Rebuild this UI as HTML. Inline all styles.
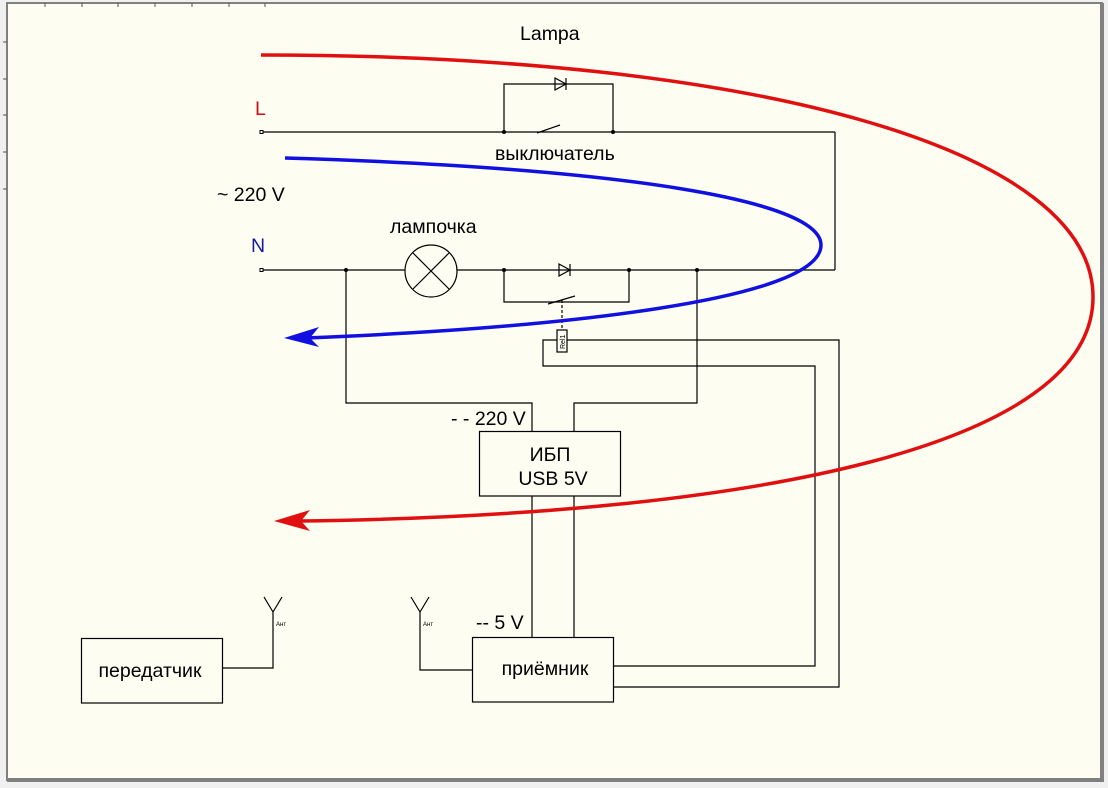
<!DOCTYPE html>
<html><head><meta charset="utf-8"><style>
html,body{margin:0;padding:0;background:#f0f0f0;}
svg{display:block;}
text{font-family:"Liberation Sans",sans-serif;}
</style></head><body>
<svg width="1108" height="788" viewBox="0 0 1108 788" xmlns="http://www.w3.org/2000/svg">
<rect x="0" y="0" width="1108" height="788" fill="#f0f0f0"/>
<rect x="7" y="3" width="1095" height="777" fill="#fdfdf2" stroke="#808080" stroke-width="2"/>
<rect x="1100" y="3" width="4" height="779" fill="#808080"/>
<rect x="7" y="778" width="1097" height="4" fill="#808080"/>
<g stroke="#555" stroke-width="1">
<line x1="45" y1="3" x2="45" y2="7"/><line x1="82" y1="3" x2="82" y2="7"/><line x1="118" y1="3" x2="118" y2="7"/><line x1="155" y1="3" x2="155" y2="7"/><line x1="192" y1="3" x2="192" y2="7"/><line x1="229" y1="3" x2="229" y2="7"/><line x1="265" y1="3" x2="265" y2="7"/>
<line x1="3" y1="42" x2="7" y2="42"/><line x1="3" y1="79" x2="7" y2="79"/><line x1="3" y1="115" x2="7" y2="115"/><line x1="3" y1="152" x2="7" y2="152"/><line x1="3" y1="189" x2="7" y2="189"/>
</g>
<g fill="none" stroke="#000" stroke-width="1.2">
<line x1="262" y1="132" x2="835" y2="132"/>
<line x1="835" y1="132" x2="835" y2="270"/>
<line x1="262" y1="270" x2="835" y2="270"/>
<polyline points="504,132 504,84 613,84 613,132"/>
<line x1="537" y1="133" x2="560" y2="125"/>
<polyline points="504,270 504,302 629,302 629,270"/>
<line x1="548" y1="304" x2="575" y2="296"/>
<line x1="562" y1="300" x2="562" y2="330" stroke-dasharray="3,2"/>
<circle cx="431" cy="271" r="26" fill="#fdfdf2"/>
<line x1="413" y1="253" x2="449" y2="289"/><line x1="449" y1="253" x2="413" y2="289"/>
<polyline points="346,270 346,403 532,403 532,432"/>
<polyline points="697,270 697,403 574,403 574,432"/>
<rect x="479.5" y="431.5" width="141" height="64.5" fill="#fdfdf2"/>
<line x1="532" y1="496" x2="532" y2="637"/>
<line x1="574" y1="496" x2="574" y2="637"/>
<rect x="472.5" y="637.5" width="141" height="64.5"/>
<rect x="81.5" y="638.5" width="141" height="64.5"/>
<polyline points="614,666 815,666 815,366 543,366 543,340 557,340"/>
<polyline points="567,340 839,340 839,687 614,687"/>
<rect x="557" y="330" width="10" height="22" fill="#fdfdf2"/>
<polyline points="222,668 273,668 273,612"/>
<polyline points="264,597 273,612 282,597"/>
<polyline points="472,670 420,670 420,612"/>
<polyline points="411,597 420,612 429,597"/>
</g>
<g fill="none" stroke="#000" stroke-width="1.2">
<polygon points="555,78 555,90 566,84"/><line x1="566" y1="78" x2="566" y2="90"/>
<polygon points="559,264 559,276 570,270"/><line x1="570" y1="264" x2="570" y2="276"/>
</g>
<g fill="#000">
<circle cx="504" cy="132" r="2"/><circle cx="613" cy="132" r="2"/>
<circle cx="346" cy="270" r="2"/><circle cx="504" cy="270" r="2"/><circle cx="629" cy="270" r="2"/><circle cx="697" cy="270" r="2"/>
</g>
<rect x="260" y="130.5" width="3" height="3" fill="#fff" stroke="#000" stroke-width="1"/>
<rect x="260" y="268.5" width="3" height="3" fill="#fff" stroke="#000" stroke-width="1"/>
<path d="M261,55 C760,55 1093,150 1093,297 C1093,445 760,515 300,521" fill="none" stroke="#e01010" stroke-width="3.5"/>
<polygon points="274,521 310,510 301,521 310,531" fill="#e01010"/>
<path d="M285,158 C620,168 821,200 821,245 C821,300 560,328 305,338" fill="none" stroke="#1010e0" stroke-width="3.5"/>
<polygon points="284,338 319,327 310,338 319,347" fill="#1010e0"/>
<g font-size="19.5">
<text x="520" y="40">Lampa</text>
<text x="255" y="115" fill="#cc1010">L</text>
<text x="251" y="252" fill="#1a1aa0">N</text>
<text x="217" y="201">~ 220 V</text>
<text x="495" y="160">выключатель</text>
<text x="390" y="233">лампочка</text>
<text x="451" y="425">- - 220 V</text>
<text x="550" y="461" text-anchor="middle">ИБП</text>
<text x="553" y="485" text-anchor="middle">USB 5V</text>
<text x="476" y="629">-- 5 V</text>
<text x="545" y="675" text-anchor="middle">приёмник</text>
<text x="150" y="677" text-anchor="middle">передатчик</text>
</g>
<text x="276" y="626" font-size="6">Ант</text>
<text x="423" y="626" font-size="6">Ант</text>
<text x="0" y="0" font-size="7" transform="translate(565,349) rotate(-90)">Rel1</text>
</svg>
</body></html>
